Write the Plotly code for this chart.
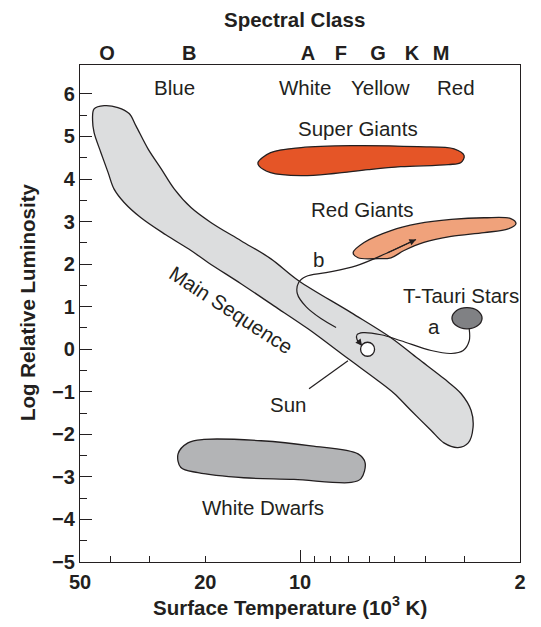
import numpy as np
import plotly.graph_objects as go

# ---- Data (temperature in 10^3 K, log relative luminosity) ----
ms_T = [45.6, 45.1, 41.9, 37.9, 34.9, 33.2, 30.4, 27.6, 25.1, 22.2, 19.2, 15.4, 12.4, 10.1, 6.88, 5.14,
        4.22, 3.49, 3.08, 2.86, 2.82, 2.92, 3.15, 3.49, 3.83, 4.44, 5.02, 5.65, 7.04, 9.43, 12.1, 15.4,
        19.6, 22.2, 26.7, 32.0, 36.2, 39.0, 40.7, 42.9, 45.1, 45.6]
ms_L = [5.37, 5.65, 5.725, 5.68, 5.54, 5.25, 4.71, 4.24, 3.77, 3.33, 2.98, 2.55, 2.13, 1.61, 0.86, 0.27,
        -0.22, -0.69, -1.04, -1.44, -1.84, -2.20, -2.31, -2.20, -1.91, -1.44, -1.04, -0.74, -0.22, 0.48, 1.02, 1.54,
        2.04, 2.32, 2.69, 3.09, 3.45, 3.77, 4.15, 4.62, 5.09, 5.37]

sg_T = [13.6, 12.4, 9.92, 6.88, 4.22, 3.24, 3.01, 3.08, 3.38, 4.78, 6.08, 7.80, 9.92, 12.4, 13.5, 13.6]
sg_L = [4.39, 4.62, 4.74, 4.785, 4.76, 4.71, 4.55, 4.39, 4.34, 4.29, 4.22, 4.13, 4.08, 4.15, 4.31, 4.39]

rg_T = [6.78, 6.26, 5.14, 4.22, 3.31, 2.60, 2.14, 2.06, 2.18, 2.60, 3.31, 4.04, 4.67, 5.14, 5.65, 6.54, 6.78]
rg_L = [2.27, 2.51, 2.79, 2.95, 3.05, 3.09, 3.07, 2.95, 2.83, 2.74, 2.65, 2.51, 2.32, 2.15, 2.13, 2.15, 2.27]

wd_T = [24.4, 22.7, 20.2, 13.3, 9.23, 6.54, 6.21, 6.40, 6.88, 10.45, 15.1, 21.1, 23.9, 24.4]
wd_L = [-2.46, -2.20, -2.12, -2.15, -2.27, -2.46, -2.67, -3.04, -3.13, -3.06, -3.02, -2.90, -2.78, -2.46]

tt_T = [3.29, 3.18, 2.95, 2.73, 2.64, 2.73, 2.95, 3.18, 3.29]
tt_L = [0.73, 0.91, 0.98, 0.91, 0.73, 0.55, 0.48, 0.55, 0.73]

track_a_T = [2.90, 2.90, 3.03, 3.31, 3.83, 4.78, 5.53, 6.31, 6.59, 6.59, 6.35]
track_a_L = [0.48, 0.20, -0.03, -0.10, -0.03, 0.20, 0.34, 0.39, 0.34, 0.23, 0.08]

track_b_T = [7.68, 8.58, 9.57, 10.2, 10.1, 9.57, 8.27, 6.64, 5.33, 4.28]
track_b_L = [0.51, 0.72, 1.00, 1.31, 1.57, 1.71, 1.80, 1.96, 2.25, 2.58]

sun_T, sun_L = [6.1], [0.0]
sun_ptr_T = [9.36, 7.04]
sun_ptr_L = [-0.93, -0.27]

spectral_T = [41.0, 22.5, 9.43, 7.41, 5.65, 4.41, 3.56]
spectral_lbl = ["O", "B", "A", "F", "G", "K", "M"]

color_T = [25.1, 9.64, 5.53, 3.19]
color_lbl = ["Blue", "White", "Yellow", "Red"]
color_L = 6.15

region_labels = [
    ("Super Giants", 6.54, 5.18, 0),
    ("Red Giants", 6.35, 3.28, 0),
    ("b", 8.76, 2.11, 0),
    ("T-Tauri Stars", 3.08, 1.26, 0),
    ("a", 3.75, 0.53, 0),
    ("Main Sequence", 16.6, 0.93, 33),
    ("Sun", 10.9, -1.30, 0),
    ("White Dwarfs", 13.1, -3.71, 0),
]

x_tick_vals = [50, 20, 10, 2]
x_minor_vals = [40, 30, 20, 9, 8, 7, 6, 5, 4, 3]
y_tick_vals = list(range(-5, 7))
y_minor_vals = [v + 0.5 for v in range(-5, 6)]

T_RANGE = (50, 2)
L_RANGE = (-5, 6.68)

# ---- Styles ----
INK = "#231F20"
FONT = "Liberation Sans"
LBL = 20.5

fig = go.Figure()


def region(T, L, fill):
    fig.add_trace(go.Scatter(x=T, y=L, mode="lines", fill="toself", fillcolor=fill,
                             line=dict(color=INK, width=1.3, shape="spline", smoothing=1),
                             hoverinfo="skip", showlegend=False))


region(ms_T, ms_L, "#DCDDDE")
region(sg_T, sg_L, "#E55527")
region(rg_T, rg_L, "#F0A27B")
region(wd_T, wd_L, "#B3B4B6")
region(tt_T, tt_L, "#808184")


def track(T, L):
    fig.add_trace(go.Scatter(x=T, y=L, mode="lines",
                             line=dict(color=INK, width=1.2, shape="spline", smoothing=1),
                             hoverinfo="skip", showlegend=False))
    fig.add_annotation(x=np.log10(T[-1]), y=L[-1], ax=np.log10(T[-2]), ay=L[-2],
                       xref="x", yref="y", axref="x", ayref="y", text="",
                       showarrow=True, arrowhead=2, arrowsize=1.1, arrowwidth=1.2, arrowcolor=INK)


track(track_a_T, track_a_L)
track(track_b_T, track_b_L)

fig.add_trace(go.Scatter(x=sun_ptr_T, y=sun_ptr_L, mode="lines",
                         line=dict(color=INK, width=1.2), hoverinfo="skip", showlegend=False))
fig.add_trace(go.Scatter(x=sun_T, y=sun_L, mode="markers",
                         marker=dict(size=14, color="white", line=dict(color=INK, width=1.3)),
                         hoverinfo="skip", showlegend=False))

# invisible traces to activate secondary x axes
fig.add_trace(go.Scatter(x=[], y=[], xaxis="x2", showlegend=False))
fig.add_trace(go.Scatter(x=[], y=[], xaxis="x3", showlegend=False))

for text, T, L, ang in region_labels:
    fig.add_annotation(x=np.log10(T), y=L, xref="x", yref="y", text=text, showarrow=False,
                       textangle=ang, xanchor="center", yanchor="middle",
                       font=dict(family=FONT, size=LBL, color=INK))

for text, T in zip(color_lbl, color_T):
    fig.add_annotation(x=np.log10(T), y=color_L, xref="x", yref="y", text=text, showarrow=False,
                       xanchor="center", yanchor="middle",
                       font=dict(family=FONT, size=LBL, color=INK))

# axis titles
title_font = dict(family=FONT, size=20.5, color=INK, weight="bold")
fig.add_annotation(x=0.477, y=-0.0885, xref="paper", yref="paper", showarrow=False,
                   xanchor="center", yanchor="middle",
                   text="Surface Temperature (10<sup>3</sup> K)", font=title_font)
fig.add_annotation(x=-0.1205, y=0.523, xref="paper", yref="paper", showarrow=False, textangle=-90,
                   xanchor="center", yanchor="middle",
                   text="Log Relative Luminosity", font=title_font)
fig.add_annotation(x=0.4886, y=1.0915, xref="paper", yref="paper", showarrow=False,
                   xanchor="center", yanchor="middle",
                   text="Spectral Class", font=title_font)

xr = [np.log10(T_RANGE[0]), np.log10(T_RANGE[1])]
tickfont = dict(family=FONT, size=20, color=INK, weight="bold")

fig.update_layout(
    width=533, height=619,
    margin=dict(l=72, r=21, t=57, b=65, autoexpand=False),
    paper_bgcolor="white", plot_bgcolor="white",
    showlegend=False,
    xaxis=dict(type="log", range=xr, showgrid=False, zeroline=False, automargin=False,
               showline=True, linecolor=INK, linewidth=1.3, mirror=True,
               ticks="inside", tickvals=[10], ticklen=12, tickwidth=1.3, tickcolor=INK,
               showticklabels=False,
               minor=dict(tickmode="array", tickvals=x_minor_vals, ticks="inside",
                          ticklen=6, tickwidth=1.3, tickcolor=INK, showgrid=False)),
    xaxis3=dict(type="log", range=xr, overlaying="x", side="bottom", anchor="y", automargin=False,
                showgrid=False, zeroline=False, showline=False, ticks="",
                tickvals=x_tick_vals, ticktext=[str(v) for v in x_tick_vals],
                ticklabelstandoff=6, tickfont=tickfont),
    xaxis2=dict(type="log", range=xr, overlaying="x", side="top", anchor="y", automargin=False,
                showgrid=False, zeroline=False, showline=False, ticks="",
                tickvals=spectral_T, ticktext=spectral_lbl, tickfont=tickfont),
    yaxis=dict(range=list(L_RANGE), showgrid=False, zeroline=False, automargin=False,
               showline=True, linecolor=INK, linewidth=1.3, mirror=True,
               ticks="inside", tickvals=y_tick_vals,
               ticktext=[str(v).replace("-", "\u2212") for v in y_tick_vals],
               ticklen=12, tickwidth=1.3, tickcolor=INK, tickfont=tickfont,
               minor=dict(tickmode="array", tickvals=y_minor_vals, ticks="inside",
                          ticklen=7, tickwidth=1.3, tickcolor=INK, showgrid=False)),
)

fig.write_html("out.html")
